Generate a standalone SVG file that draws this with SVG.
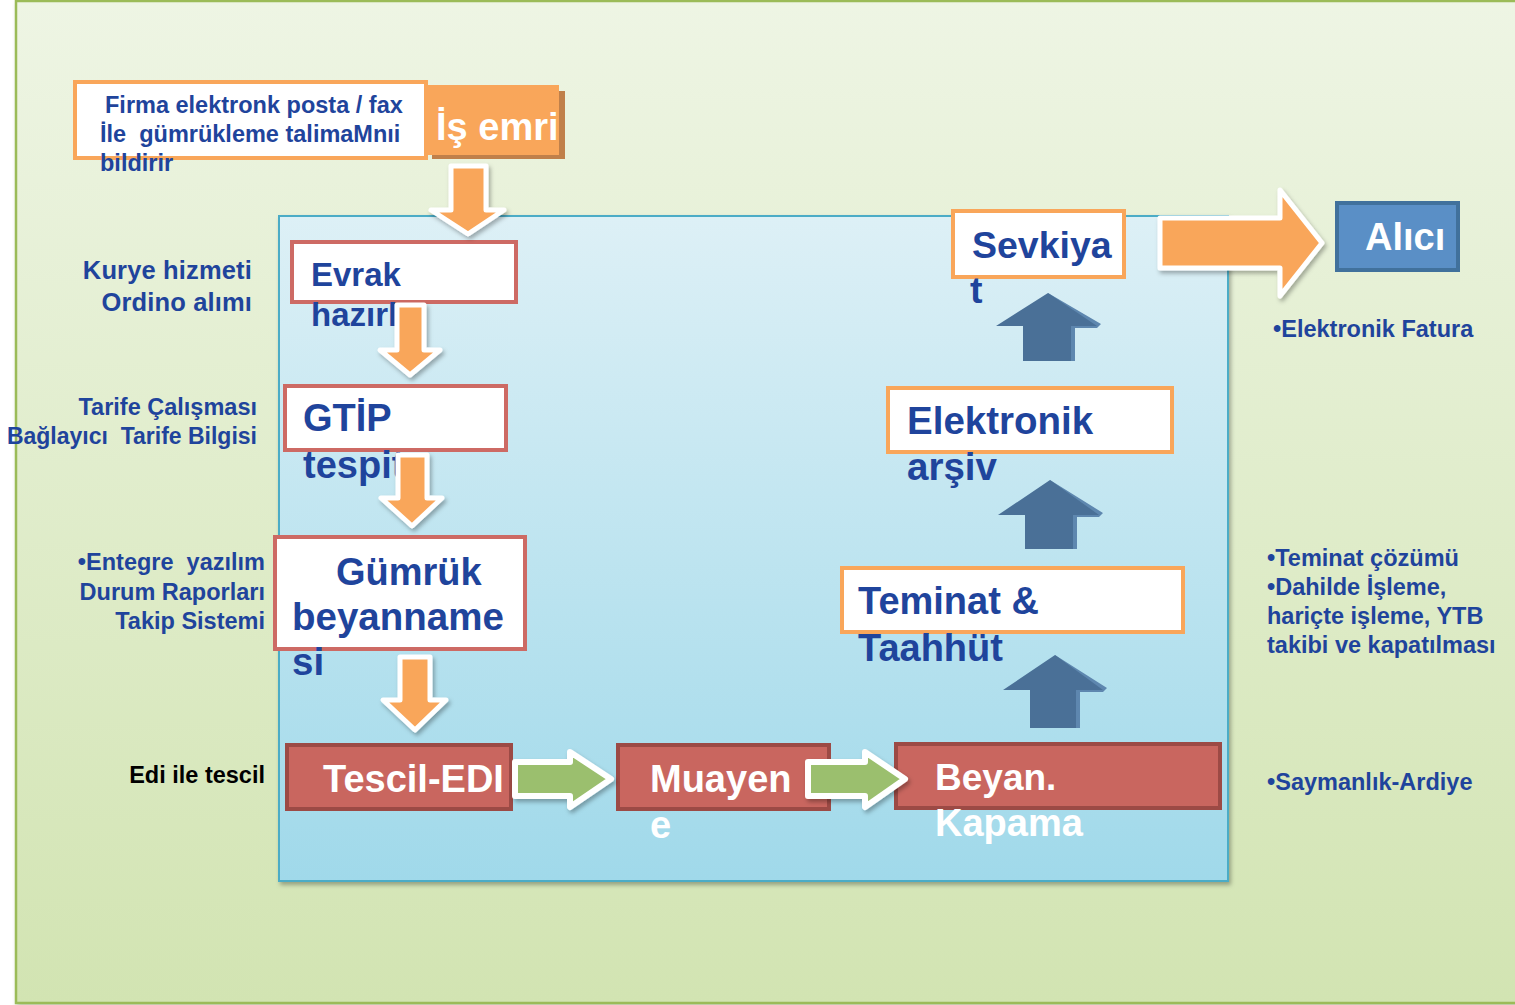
<svg xmlns="http://www.w3.org/2000/svg" width="1515" height="1005" viewBox="0 0 1515 1005">
<defs>
<linearGradient id="gOuter" x1="0" y1="0" x2="0" y2="1">
<stop offset="0" stop-color="#EEF5E4"/>
<stop offset="1" stop-color="#D2E4B2"/>
</linearGradient>
<linearGradient id="gInner" x1="0" y1="0" x2="0" y2="1">
<stop offset="0" stop-color="#DDF0F6"/>
<stop offset="1" stop-color="#A0D9EA"/>
</linearGradient>
<filter id="sh" x="-10%" y="-10%" width="130%" height="130%">
<feDropShadow dx="2" dy="3" stdDeviation="2" flood-color="#000" flood-opacity="0.3"/>
</filter>
<style>
text{white-space:pre}
.side{font-family:"Liberation Sans",Arial,sans-serif;font-weight:bold;font-size:23.5px;fill:#1F449C}
.big{font-size:25.5px;letter-spacing:0.15px}
.lbl{font-family:"Liberation Sans",Arial,sans-serif;font-weight:bold;fill:#1F449C}
.wlbl{font-family:"Liberation Sans",Arial,sans-serif;font-weight:bold;fill:#FFFFFF}
.wbox{fill:#FFFFFF;stroke:#F9A65A;stroke-width:4}
.rbox{fill:#FFFFFF;stroke:#CD6A64;stroke-width:4}
.dbox{fill:#C9665F;stroke:#9C4A45;stroke-width:4}
.oarr{fill:#F9A65A;stroke:#FFFFFF;stroke-width:5;stroke-linejoin:round}
.garr{fill:#9BBF6E;stroke:#FFFFFF;stroke-width:6;stroke-linejoin:round}
.uarr{fill:#4A7097}
.uarr2{fill:#5E87AF}
</style>
</defs>

<rect x="0" y="0" width="1515" height="1005" fill="#FFFFFF"/>
<rect x="16" y="1" width="1505" height="1002" fill="url(#gOuter)" stroke="#9BBB59" stroke-width="2.5" filter="url(#sh)"/>
<rect x="279" y="216" width="949" height="665" fill="url(#gInner)" stroke="#4BACC6" stroke-width="2" filter="url(#sh)"/>

<!-- side notes -->
<g id="notes">
<text class="side big" x="252" y="279" text-anchor="end">Kurye hizmeti</text>
<text class="side big" x="252" y="311" text-anchor="end">Ordino alımı</text>
<text class="side" x="257" y="415" text-anchor="end">Tarife Çalışması</text>
<text class="side" x="257" y="444" text-anchor="end" style="font-size:23px">Bağlayıcı  Tarife Bilgisi</text>
<text class="side" x="265" y="570" text-anchor="end">•Entegre  yazılım</text>
<text class="side" x="265" y="600" text-anchor="end">Durum Raporları</text>
<text class="side" x="265" y="629" text-anchor="end">Takip Sistemi</text>
<text class="side" x="265" y="783" text-anchor="end" style="fill:#000000">Edi ile tescil</text>
<text class="side" x="1273" y="337">•Elektronik Fatura</text>
<text class="side" x="1267" y="566">•Teminat çözümü</text>
<text class="side" x="1267" y="595">•Dahilde İşleme,</text>
<text class="side" x="1267" y="624">hariçte işleme, YTB</text>
<text class="side" x="1267" y="653">takibi ve kapatılması</text>
<text class="side" x="1267" y="790">•Saymanlık-Ardiye</text>
</g>

<!-- nodes -->
<g id="firma">
<rect class="wbox" x="75" y="82" width="351" height="76"/>
<text class="lbl" font-size="23.5" x="105" y="113">Firma elektronk posta / fax</text>
<text class="lbl" font-size="23.5" x="100" y="142">İle  gümrükleme talimaMnıi</text>
<text class="lbl" font-size="23.5" x="100" y="171">bildirir</text>
</g>
<g id="isemri">
<rect x="432" y="91" width="133" height="68" fill="#C0804A"/>
<rect x="426" y="85" width="133" height="70" fill="#F9A65A"/>
<text class="wlbl" font-size="38" x="436" y="140">İş emri</text>
</g>
<g id="evrak">
<rect class="rbox" x="292" y="242" width="224" height="60"/>
<text class="lbl" font-size="33" x="311" y="286">Evrak</text>
<text class="lbl" font-size="33" x="311" y="326">hazırl</text>
</g>
<g id="gtip">
<rect class="rbox" x="285" y="386" width="221" height="64"/>
<text class="lbl" font-size="38" x="303" y="431">GTİP</text>
<text class="lbl" font-size="38" x="303" y="478">tespit</text>
</g>
<g id="gumruk">
<rect class="rbox" x="275" y="537" width="250" height="112"/>
<text class="lbl" font-size="38" x="336" y="585">Gümrük</text>
<text class="lbl" font-size="38.5" x="292" y="630">beyanname</text>
<text class="lbl" font-size="38.5" x="292" y="675">si</text>
</g>
<g id="tescil">
<rect class="dbox" x="287" y="745" width="224" height="64"/>
<text class="wlbl" font-size="38" x="323" y="792">Tescil-EDI</text>
</g>
<g id="muayene">
<rect class="dbox" x="618" y="745" width="211" height="64"/>
<text class="wlbl" font-size="38" x="650" y="792">Muayen</text>
<text class="wlbl" font-size="38" x="650" y="838">e</text>
</g>
<g id="beyan">
<rect class="dbox" x="896" y="744" width="324" height="64"/>
<text class="wlbl" font-size="37" x="935" y="790">Beyan.</text>
<text class="wlbl" font-size="38" x="935" y="836">Kapama</text>
</g>
<g id="teminat">
<rect class="wbox" x="842" y="568" width="341" height="64"/>
<text class="lbl" font-size="38" x="858" y="614">Teminat &amp;</text>
<text class="lbl" font-size="38" x="858" y="661">Taahhüt</text>
</g>
<g id="arsiv">
<rect class="wbox" x="888" y="388" width="284" height="64"/>
<text class="lbl" font-size="38.5" x="907" y="434">Elektronik</text>
<text class="lbl" font-size="38.5" x="907" y="480">arşiv</text>
</g>
<g id="sevkiyat">
<rect class="wbox" x="953" y="211" width="171" height="66"/>
<text class="lbl" font-size="37.5" x="972" y="258">Sevkiya</text>
<text class="lbl" font-size="37.5" x="970" y="303">t</text>
</g>
<g id="alici">
<rect x="1337" y="203" width="121" height="67" fill="#5A8FC6" stroke="#41719C" stroke-width="4"/>
<text class="wlbl" font-size="38" x="1365" y="250">Alıcı</text>
</g>

<!-- connectors -->
<g id="connectors">
<path class="oarr" d="M451 166 H486 V210 H504 L468 234 L431 210 H451 Z" filter="url(#sh)"/>
<path class="oarr" d="M397 305 H424 V350 H440 L410 375 L380 350 H397 Z" filter="url(#sh)"/>
<path class="oarr" d="M398 455 H427 V498 H442 L412 526 L381 498 H398 Z" filter="url(#sh)"/>
<path class="oarr" d="M400 657 H430 V700 H446 L415 730 L383 700 H400 Z" filter="url(#sh)"/>
<path class="garr" d="M515 762 H570 V752 L611 779 L570 807 V796 H515 Z" filter="url(#sh)"/>
<path class="garr" d="M808 762 H865 V752 L905 779 L865 807 V796 H808 Z" filter="url(#sh)"/>
<path class="oarr" d="M1160 218 H1280 V190 L1322 243 L1280 296 V268 H1160 Z" filter="url(#sh)"/>
<g>
<path class="uarr2" d="M1055 655 L1107 688 L1103 692 L1080 692 L1080 728 L1076 728 Z"/>
<path class="uarr" d="M1055 655 L1103 690 H1076 V728 H1030 V690 H1003 Z"/>
</g>
<g>
<path class="uarr2" d="M1050 480 L1103 513 L1099 517 L1077 517 L1077 549 L1073 549 Z"/>
<path class="uarr" d="M1050 480 L1099 515 H1073 V549 H1025 V515 H998 Z"/>
</g>
<g>
<path class="uarr2" d="M1048 293 L1101 324 L1097 328 L1075 328 L1075 361 L1071 361 Z"/>
<path class="uarr" d="M1048 293 L1097 326 H1071 V361 H1023 V326 H996 Z"/>
</g>
</g>
</svg>
